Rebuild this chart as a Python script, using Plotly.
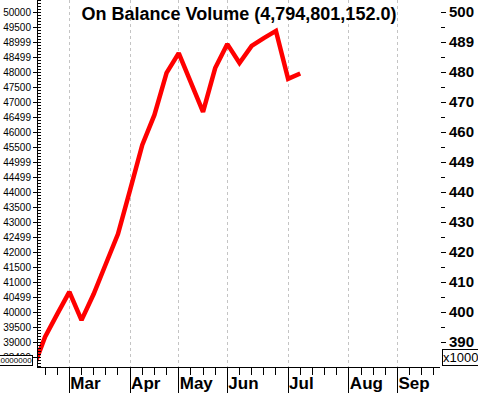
import plotly.graph_objects as go

# Weekly index (0 = first week of March); OBV in units of 10,000,000
weeks = list(range(-3, 20))
obv = [381.0, 391.7, 399.3, 406.7, 397.3, 406.0, 416.0, 426.0, 440.7, 455.7,
       465.7, 479.7, 486.3, 476.7, 466.7, 481.3, 489.3, 483.0, 488.7, 491.3,
       493.7, 477.7, 479.5]

month_pos = [0, 5, 9, 13, 18, 23, 27]
month_labels = ["Mar", "Apr", "May", "Jun", "Jul", "Aug", "Sep"]

right_vals = [500, 490, 480, 470, 460, 450, 440, 430, 420, 410, 400, 390]
right_labels = ["500", "489", "480", "470", "460", "449", "440", "430", "420", "410", "400", "390"]
right_minor = [495, 485, 475, 465, 455, 445, 435, 425, 415, 405, 395]

left_vals = [50000 - 500 * i for i in range(24)]
left_labels = ["50000", "49500", "48999", "48499", "48000", "47500", "47000", "46499",
               "46000", "45500", "44999", "44499", "44000", "43500", "43000", "42499",
               "42000", "41500", "41000", "40499", "40000", "39500", "39000", "38499"]

title_text = "On Balance Volume (4,794,801,152.0)"
multiplier_text = "x10000000"

y_range = [381.67, 504.0]
x_range = [-2.58, 30.5]

fig = go.Figure()
fig.add_trace(go.Scatter(x=weeks, y=obv, mode="lines",
                         line=dict(color="#ff0000", width=4.5),
                         showlegend=False, hoverinfo="skip"))
fig.add_trace(go.Scatter(x=[None], y=[None], yaxis="y2", showlegend=False,
                         hoverinfo="skip"))

fig.update_layout(
    width=478, height=393,
    margin=dict(l=38, r=38, t=0, b=26),
    paper_bgcolor="white", plot_bgcolor="white",
    title=dict(text=title_text, x=0.5, xref="paper", y=1 - 14 / 393,
               yanchor="middle", xanchor="center",
               font=dict(family="Arial", size=18, color="black", weight="bold")),
    xaxis=dict(range=x_range, tickmode="array", tickvals=month_pos,
               ticktext=month_labels, ticks="outside", ticklen=26,
               tickcolor="black", tickwidth=1, showline=True, linecolor="black",
               linewidth=1, showgrid=True, gridcolor="#c4c4c4", griddash="3px,3px",
               gridwidth=1, zeroline=False, ticklabelposition="outside right",
               ticklabelstandoff=1, automargin=False,
               tickfont=dict(family="Arial", size=17, color="black", weight="bold"),
               minor=dict(tick0=0, dtick=1, ticks="outside", ticklen=7,
                          tickcolor="black", tickwidth=1, showgrid=False)),
    yaxis=dict(range=y_range, side="right", tickmode="array", tickvals=right_vals,
               ticktext=right_labels, ticks="outside", ticklen=5, tickcolor="black",
               showline=False, showgrid=False, zeroline=False, automargin=False,
               ticklabelstandoff=0,
               tickfont=dict(family="Arial", size=15, color="black", weight="bold"),
               minor=dict(tickvals=right_minor, ticks="outside", ticklen=4,
                          tickcolor="black", showgrid=False)),
    yaxis2=dict(range=[v * 100 for v in y_range], overlaying="y", side="left",
                tickmode="array", tickvals=left_vals, ticktext=left_labels,
                ticks="outside", ticklen=4, tickcolor="black", showline=True,
                linecolor="black", linewidth=1, showgrid=False, zeroline=False,
                automargin=False,
                tickfont=dict(family="Arial", size=10, color="black"),
                minor=dict(tick0=0, dtick=100, ticks="inside", ticklen=3,
                           tickcolor="black", showgrid=False)),
)

fig.add_annotation(text=multiplier_text, xref="paper", yref="paper", x=0, y=0,
                   xanchor="right", yanchor="bottom", xshift=-5, yshift=1,
                   showarrow=False, bgcolor="white", bordercolor="black",
                   borderwidth=1, borderpad=0,
                   font=dict(family="Arial", size=8, color="black"))
fig.add_annotation(text=multiplier_text, xref="paper", yref="paper", x=1, y=0,
                   xanchor="left", yanchor="bottom", xshift=2, yshift=1,
                   showarrow=False, bgcolor="white", bordercolor="black",
                   borderwidth=1, borderpad=0,
                   font=dict(family="Arial", size=13, color="black"))

fig.write_html("out.html", config={"displayModeBar": False},
               post_script="document.body.style.margin='0';document.body.style.overflow='hidden';")
